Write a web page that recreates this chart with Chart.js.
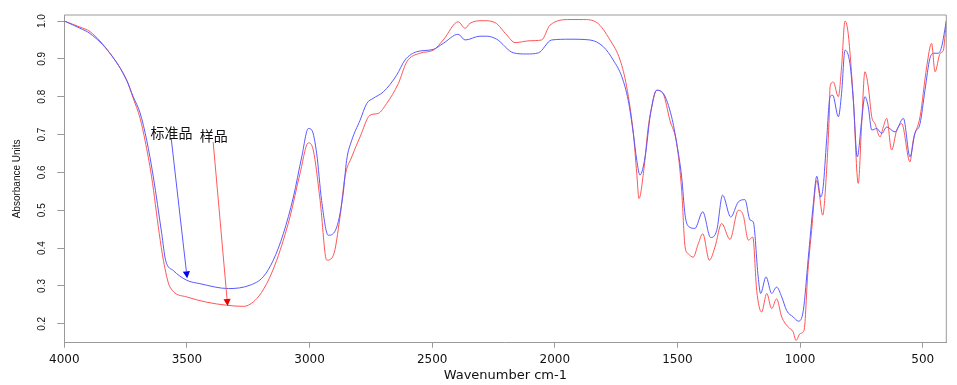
<!DOCTYPE html>
<html>
<head>
<meta charset="utf-8">
<script src="https://cdn.jsdelivr.net/npm/chart.js@4"></script>
<style>
  html, body { margin: 0; padding: 0; background: #fff; }
  #wrap { width: 957px; height: 385px; position: relative; }
</style>
</head>
<body>
<div id="wrap"><canvas id="irChart"></canvas></div>
<script>
const xTicks = [4000, 3500, 3000, 2500, 2000, 1500, 1000, 500];
const yTicks = [0.2, 0.3, 0.4, 0.5, 0.6, 0.7, 0.8, 0.9, 1.0];
const seriesNames = ["标准品", "样品"];

// 标准品 (blue)
const stdWavenumber = [
  4000, 3936, 3895, 3814, 3746, 3719, 3691, 3664, 3637, 3603,
  3587, 3556, 3501, 3447, 3330, 3243, 3189, 3148, 3107, 3066,
  3032, 3005, 2991, 2971, 2951, 2924, 2889, 2863, 2849, 2828,
  2794, 2767, 2740, 2699, 2645, 2611, 2563, 2496, 2455, 2394,
  2366, 2305, 2278, 2237, 2169, 2115, 2067, 2013, 1938, 1857,
  1802, 1762, 1727, 1701, 1680, 1666, 1653, 1632, 1610, 1585,
  1558, 1524, 1503, 1483, 1469, 1456, 1429, 1397, 1365, 1340,
  1316, 1283, 1252, 1225, 1204, 1191, 1171, 1161, 1139, 1116,
  1096, 1075, 1055, 1028, 1007, 987, 967, 946, 932, 916,
  906, 892, 878, 867, 844, 831, 817, 797, 783, 767,
  749, 736, 722, 708, 688, 667, 647, 613, 579, 552,
  532, 511, 491, 471, 454, 437, 423, 409, 404
];
const stdAbsorbance = [
  1.000, 0.981, 0.967, 0.915, 0.844, 0.800, 0.757, 0.685, 0.588, 0.439,
  0.368, 0.341, 0.315, 0.306, 0.293, 0.302, 0.324, 0.368, 0.438, 0.535,
  0.641, 0.716, 0.712, 0.650, 0.526, 0.434, 0.456, 0.544, 0.632, 0.685,
  0.738, 0.782, 0.796, 0.813, 0.857, 0.897, 0.919, 0.925, 0.941, 0.965,
  0.950, 0.960, 0.960, 0.952, 0.916, 0.913, 0.916, 0.950, 0.952, 0.950,
  0.932, 0.897, 0.853, 0.791, 0.703, 0.632, 0.593, 0.641, 0.755, 0.817,
  0.809, 0.747, 0.676, 0.588, 0.487, 0.458, 0.452, 0.496, 0.428, 0.447,
  0.540, 0.482, 0.522, 0.528, 0.474, 0.469, 0.324, 0.280, 0.324, 0.280,
  0.297, 0.271, 0.235, 0.218, 0.207, 0.235, 0.372, 0.518, 0.590, 0.535,
  0.562, 0.685, 0.800, 0.804, 0.747, 0.809, 0.923, 0.888, 0.791, 0.641,
  0.738, 0.800, 0.773, 0.712, 0.716, 0.703, 0.720, 0.707, 0.743, 0.641,
  0.703, 0.729, 0.817, 0.901, 0.915, 0.915, 0.932, 0.981, 1.000
];

// 样品 (red)
const sampleWavenumber = [
  4000, 3936, 3895, 3814, 3746, 3719, 3691, 3671, 3644, 3613,
  3596, 3569, 3501, 3419, 3338, 3270, 3216, 3175, 3134, 3080,
  3039, 3005, 2985, 2957, 2930, 2903, 2876, 2856, 2828, 2794,
  2754, 2720, 2686, 2638, 2604, 2550, 2496, 2455, 2394, 2366,
  2346, 2292, 2244, 2196, 2162, 2101, 2054, 2020, 1938, 1884,
  1829, 1775, 1734, 1707, 1680, 1666, 1657, 1639, 1619, 1605,
  1585, 1558, 1531, 1503, 1483, 1469, 1456, 1436, 1415, 1397,
  1370, 1347, 1320, 1286, 1252, 1232, 1211, 1193, 1177, 1157,
  1136, 1116, 1096, 1075, 1048, 1028, 1017, 1000, 984, 968,
  953, 932, 922, 908, 892, 881, 878, 865, 844, 831,
  817, 804, 783, 763, 749, 736, 722, 708, 695, 674,
  661, 647, 627, 606, 586, 552, 539, 511, 484, 464,
  450, 429, 416, 404
];
const sampleAbsorbance = [
  1.000, 0.984, 0.972, 0.915, 0.844, 0.796, 0.743, 0.685, 0.588, 0.439,
  0.368, 0.297, 0.271, 0.257, 0.249, 0.246, 0.266, 0.306, 0.368, 0.482,
  0.597, 0.678, 0.659, 0.526, 0.368, 0.381, 0.482, 0.588, 0.641, 0.694,
  0.751, 0.756, 0.782, 0.835, 0.892, 0.915, 0.923, 0.950, 0.998, 0.981,
  0.994, 1.001, 0.996, 0.963, 0.943, 0.948, 0.950, 0.989, 1.004, 1.004,
  0.996, 0.950, 0.897, 0.826, 0.703, 0.597, 0.531, 0.597, 0.720, 0.773,
  0.817, 0.807, 0.738, 0.676, 0.553, 0.403, 0.385, 0.376, 0.412, 0.438,
  0.368, 0.403, 0.465, 0.423, 0.500, 0.487, 0.421, 0.429, 0.288, 0.231,
  0.280, 0.240, 0.266, 0.218, 0.191, 0.178, 0.156, 0.174, 0.183, 0.341,
  0.447, 0.579, 0.545, 0.487, 0.606, 0.757, 0.826, 0.839, 0.800, 0.879,
  1.000, 0.967, 0.791, 0.571, 0.729, 0.866, 0.826, 0.747, 0.729, 0.694,
  0.720, 0.743, 0.659, 0.712, 0.729, 0.628, 0.685, 0.747, 0.879, 0.941,
  0.866, 0.915, 0.923, 1.000
];

// label callouts, anchored in data units (wavenumber, absorbance)
const callouts = [
  { text: seriesNames[0], at: [3563, 0.706], from: [3564, 0.689], to: [3499, 0.320], line: "#5a5aff", head: "#0000ee" },
  { text: seriesNames[1], at: [3391, 0.698], from: [3393, 0.680], to: [3334, 0.247], line: "#ff5a5a", head: "#ee0000" }
];

const AXIS_GRAY = "#9a9a9a";

function toPoints(xs, ys) {
  return xs.map((x, i) => ({ x, y: ys[i] }));
}

const framePlugin = {
  id: "frame",
  afterDraw(chart) {
    const { ctx, chartArea: a } = chart;
    ctx.save();
    ctx.strokeStyle = AXIS_GRAY;
    ctx.lineWidth = 1;
    ctx.beginPath();
    ctx.moveTo(a.left, a.top);
    ctx.lineTo(a.right, a.top);
    ctx.lineTo(a.right, a.bottom);
    ctx.stroke();
    ctx.restore();
  }
};

const calloutPlugin = {
  id: "callouts",
  afterDatasetsDraw(chart) {
    const { ctx, scales: { x, y } } = chart;
    ctx.save();
    callouts.forEach(c => {
      const x1 = x.getPixelForValue(c.from[0]), y1 = y.getPixelForValue(c.from[1]);
      const x2 = x.getPixelForValue(c.to[0]), y2 = y.getPixelForValue(c.to[1]);
      const ang = Math.atan2(y2 - y1, x2 - x1);
      const hl = 7, hw = 3.6;
      const bx = x2 - hl * Math.cos(ang), by = y2 - hl * Math.sin(ang);
      ctx.strokeStyle = c.line;
      ctx.lineWidth = 1;
      ctx.beginPath();
      ctx.moveTo(x1, y1);
      ctx.lineTo(bx, by);
      ctx.stroke();
      ctx.fillStyle = c.head;
      ctx.beginPath();
      ctx.moveTo(x2, y2);
      ctx.lineTo(bx + hw * Math.sin(ang), by - hw * Math.cos(ang));
      ctx.lineTo(bx - hw * Math.sin(ang), by + hw * Math.cos(ang));
      ctx.closePath();
      ctx.fill();

      ctx.fillStyle = "#111";
      ctx.font = '14px "Noto Sans CJK SC", sans-serif';
      ctx.textAlign = "center";
      ctx.textBaseline = "middle";
      ctx.fillText(c.text, x.getPixelForValue(c.at[0]), y.getPixelForValue(c.at[1]));
    });
    ctx.restore();
  }
};

new Chart(document.getElementById("irChart"), {
  type: "line",
  data: {
    datasets: [
      { label: seriesNames[0], data: toPoints(stdWavenumber, stdAbsorbance), borderColor: "#5a5aff", borderWidth: 1, pointRadius: 0, cubicInterpolationMode: "monotone" },
      { label: seriesNames[1], data: toPoints(sampleWavenumber, sampleAbsorbance), borderColor: "#ff5656", borderWidth: 1, pointRadius: 0, cubicInterpolationMode: "monotone" }
    ]
  },
  options: {
    responsive: true,
    maintainAspectRatio: false,
    animation: false,
    layout: { padding: { left: 0, top: 15, right: 10.7, bottom: 0 } },
    plugins: { legend: { display: false }, tooltip: { enabled: false } },
    scales: {
      x: {
        type: "linear",
        reverse: true,
        min: 404,
        max: 4000,
        afterBuildTicks: s => { s.ticks = xTicks.map(v => ({ value: v })); },
        afterFit: s => { s.height = 42.3; },
        grid: { drawOnChartArea: false, tickLength: 5, tickColor: AXIS_GRAY },
        border: { color: AXIS_GRAY },
        ticks: { color: "#111", padding: 5.4, maxRotation: 0, font: { family: "DejaVu Sans", size: 12 }, callback: v => String(v) },
        title: { display: true, text: "Wavenumber cm-1", color: "#111", padding: { top: 0, bottom: 1.2 }, font: { family: "DejaVu Sans", size: 13 } }
      },
      y: {
        min: 0.15,
        max: 1.016,
        afterBuildTicks: s => { s.ticks = yTicks.map(v => ({ value: v })); },
        afterFit: s => { s.width = 64.3; },
        grid: { drawOnChartArea: false, tickLength: 7, tickColor: AXIS_GRAY },
        border: { color: AXIS_GRAY },
        ticks: {
          color: "#111",
          minRotation: 90,
          maxRotation: 90,
          crossAlign: "center",
          padding: 8,
          font: { family: "Liberation Sans", size: 10 },
          callback: v => Number(v).toFixed(1)
        },
        title: { display: true, text: "Absorbance Units", color: "#111", padding: { top: 11.5, bottom: 0 }, font: { family: "Liberation Sans", size: 10 } }
      }
    }
  },
  plugins: [framePlugin, calloutPlugin]
});
</script>
</body>
</html>
